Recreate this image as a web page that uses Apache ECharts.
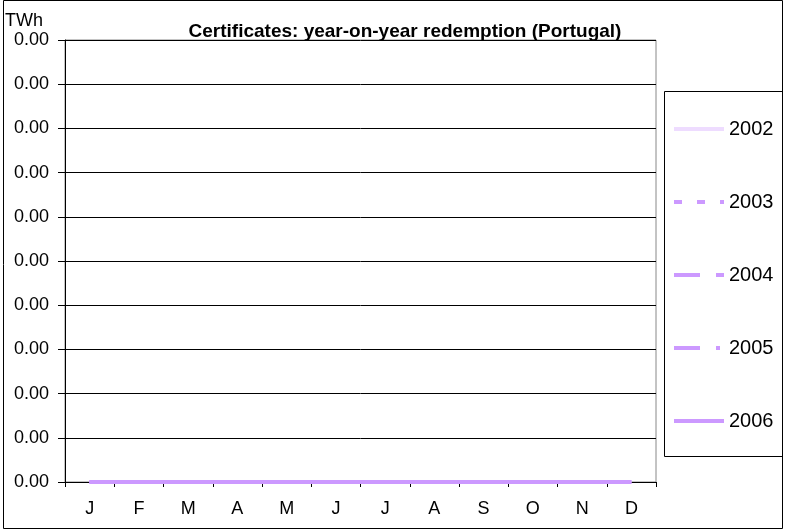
<!DOCTYPE html>
<html lang="en">
  <head>
    <meta charset="utf-8" />
    <title>Certificates: year-on-year redemption (Portugal)</title>
    <style>
      * {
        margin: 0;
        padding: 0;
      }

      #chart-container {
        position: relative;
        width: 785px;
        height: 529px;
        overflow: hidden;
        background: #fff;
      }
    </style>
  </head>

  <body>
    <div id="chart-container"></div>
    <script src="https://cdn.jsdelivr.net/npm/echarts@6/dist/echarts.min.js"></script>
    <script>
      var months = ["J", "F", "M", "A", "M", "J", "J", "A", "S", "O", "N", "D"];
      var years = ["2002", "2003", "2004", "2005", "2006"];

      // redemption per month, TWh (all read as 0.00 on the chart)
      var y2002 = [0, 0, 0, 0, 0, 0, 0, 0, 0, 0, 0, 0];
      var y2003 = [0, 0, 0, 0, 0, 0, 0, 0, 0, 0, 0, 0];
      var y2004 = [0, 0, 0, 0, 0, 0, 0, 0, 0, 0, 0, 0];
      var y2005 = [0, 0, 0, 0, 0, 0, 0, 0, 0, 0, 0, 0];
      var y2006 = [0, 0, 0, 0, 0, 0, 0, 0, 0, 0, 0, 0];

      var yMin = 0;
      var yMax = 0.001;
      var yStep = 0.0001;

      var seriesData = [y2002, y2003, y2004, y2005, y2006];
      var lineColors = ["#eedcff", "#cc99ff", "#cc99ff", "#cc99ff", "#cc99ff"];
      var lineTypes = ["solid", [8, 15], [26, 16], [26, 16, 4, 16], "solid"];

      var dom = document.getElementById("chart-container");
      var myChart = echarts.init(dom, null, { renderer: "canvas" });

      var option = {
        animation: false,
        textStyle: { fontFamily: "Liberation Sans, Arial, sans-serif" },
        title: [
          {
            text: "Certificates: year-on-year redemption (Portugal)",
            left: 400,
            textAlign: "center",
            top: 17,
            textStyle: { fontSize: 19, fontWeight: "bold", color: "#000" },
          },
          {
            text: "TWh",
            left: 0,
            top: 7,
            textStyle: { fontSize: 18, fontWeight: "normal", color: "#000" },
          },
        ],
        graphic: [
          {
            type: "rect",
            shape: { x: 3.5, y: 0.5, width: 779, height: 528 },
            style: { fill: null, stroke: "#000", lineWidth: 1 },
            silent: true,
          },
          {
            type: "rect",
            shape: { x: 664.5, y: 91.5, width: 118, height: 365 },
            style: { fill: "#fff", stroke: "#000", lineWidth: 1 },
            silent: true,
            z: -1,
          },
        ],
        legend: {
          orient: "vertical",
          left: 667,
          top: 114,
          itemWidth: 50,
          itemHeight: 16,
          itemGap: 53,
          itemStyle: { opacity: 0 },
          lineStyle: { width: 4 },
          textStyle: { fontSize: 20, color: "#000" },
          data: years,
        },
        grid: {
          left: 65,
          right: 129,
          top: 40,
          bottom: 47,
          show: true,
          borderColor: "#888",
          borderWidth: 1,
          backgroundColor: "#fff",
        },
        xAxis: {
          type: "category",
          data: months,
          boundaryGap: true,
          axisLine: { lineStyle: { color: "#000", width: 1 } },
          axisTick: { show: true, length: 5, lineStyle: { color: "#000" } },
          axisLabel: { fontSize: 18, color: "#000", margin: 18 },
        },
        yAxis: {
          type: "value",
          min: yMin,
          max: yMax,
          interval: yStep,
          axisLine: { show: true, lineStyle: { color: "#000", width: 1 } },
          axisTick: { show: true, length: 7, lineStyle: { color: "#000" } },
          axisLabel: {
            fontSize: 18,
            color: "#000",
            margin: 16,
            formatter: function (v) {
              return v.toFixed(2);
            },
          },
          splitLine: { show: true, lineStyle: { color: "#000", width: 1 } },
        },
        series: years.map(function (y, i) {
          return {
            name: y,
            type: "line",
            data: seriesData[i],
            symbol: "none",
            color: lineColors[i],
            lineStyle: { color: lineColors[i], width: 4, type: lineTypes[i] },
          };
        }),
      };

      myChart.setOption(option);
      window.addEventListener("resize", myChart.resize);
    </script>
  </body>
</html>
